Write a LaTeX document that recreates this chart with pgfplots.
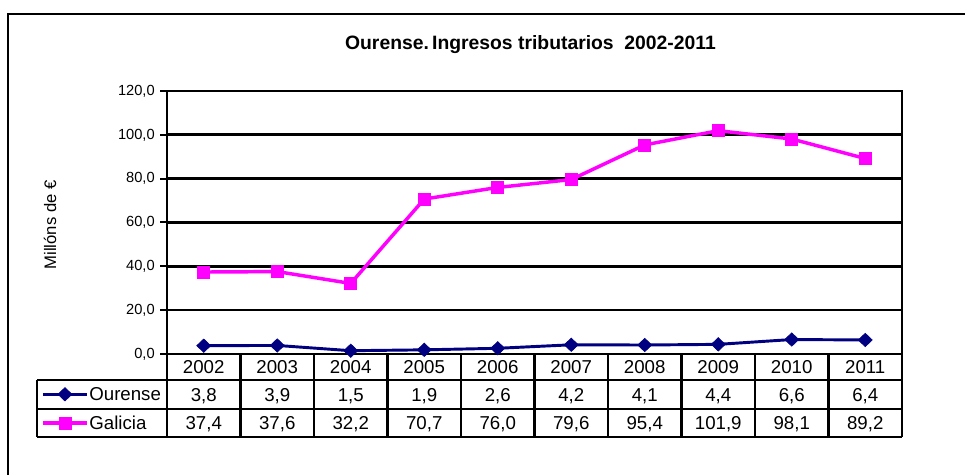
\documentclass[border=0pt]{standalone}
\usepackage{pgfplots}
\pgfplotsset{compat=1.18}
\usepackage{fontspec}
\setmainfont{Liberation Sans}
\definecolor{ourense}{HTML}{000080}
\definecolor{galicia}{HTML}{FF00FF}

\begin{document}
\begin{tikzpicture}[x=0.75pt,y=0.75pt]
\useasboundingbox (0,0) rectangle (965,475);
% outer frame (right and bottom edges fall outside the picture)
\draw[line width=2pt] (8,-20) -- (8,461) -- (990,461);

\node[font=\bfseries\fontsize{14.5}{17}\selectfont] at (530.5,430)
  {Ourense.\,Ingresos tributarios\ \ 2002-2011};
\node[rotate=90, font=\fontsize{12.5}{15}\selectfont] at (50,250) {Millóns de €};

\begin{axis}[
    at={(125.25pt,90.75pt)}, anchor=south west,
    width=551.25pt, height=197.25pt, scale only axis,
    xmin=-0.5, xmax=9.5,
    ymin=0, ymax=120,
    xtick=\empty,
    ytick={0,20,40,60,80,100,120},
    ytick pos=left,
    tick align=outside,
    major tick length=5pt,
    tick style={black, line width=1.5pt},
    ymajorgrids=true,
    grid style={black, line width=2pt},
    axis line style={line width=2pt},
    clip=false,
    yticklabel style={font=\fontsize{11}{13}\selectfont, inner sep=4pt,
        /pgf/number format/.cd, fixed, fixed zerofill, precision=1, use comma,
        assume math mode=true},
    legend image code/.code={
        \draw[mark repeat=2, mark phase=2, #1] plot coordinates {(0pt,0pt) (16.5pt,0pt) (33pt,0pt)};},
    legend cell align=left,
    legend style={at={(-0.1715,-0.2082)}, anchor=west, draw=none, fill=none,
        inner sep=0pt, row sep=11.7pt, column sep=0.5pt,
        font=\fontsize{14}{16}\selectfont,
        nodes={inner sep=0pt, text height=10pt, text depth=0pt}},
]

\addplot[ourense, line width=2.2pt, mark=diamond*,
    mark options={solid, fill=ourense, line width=0.5pt, mark size=5pt, xscale=1.4}]
    coordinates {
    (0,3.8)(1,3.9)(2,1.5)(3,1.9)(4,2.6)(5,4.2)(6,4.1)(7,4.4)(8,6.6)(9,6.4)
    };

\addplot[galicia, line width=2.6pt, mark=square*,
    mark options={solid, fill=galicia, line width=0.5pt, mark size=4.5pt}]
    coordinates {
    (0,37.4)(1,37.6)(2,32.2)(3,70.7)(4,76.0)(5,79.6)(6,95.4)(7,101.9)(8,98.1)(9,89.2)
    };

\legend{Ourense, Galicia}
\end{axis}

% data table below the plot
\draw[line width=2pt] (37,95) -- (902,95) (37,66) -- (902,66) (37,38) -- (902,38)
  (37,95) -- (37,38);
\foreach \x in {167,240.5,314,387.5,461,534.5,608,681.5,755,828.5,902}
  \draw[line width=2pt] (\x,121) -- (\x,38);

\begin{scope}[every node/.style={font=\fontsize{14}{16}\selectfont,
    inner sep=0pt, text height=10pt, text depth=0pt}]
\foreach \v [count=\k from 0] in {2002,2003,2004,2005,2006,2007,2008,2009,2010,2011}
  \node at (203.75+73.5*\k,108) {\v};
\foreach \v [count=\k from 0] in {{3,8},{3,9},{1,5},{1,9},{2,6},{4,2},{4,1},{4,4},{6,6},{6,4}}
  \node at (203.75+73.5*\k,80.5) {\v};
\foreach \v [count=\k from 0] in {{37,4},{37,6},{32,2},{70,7},{76,0},{79,6},{95,4},{101,9},{98,1},{89,2}}
  \node at (203.75+73.5*\k,52) {\v};
\end{scope}
\end{tikzpicture}
\end{document}
